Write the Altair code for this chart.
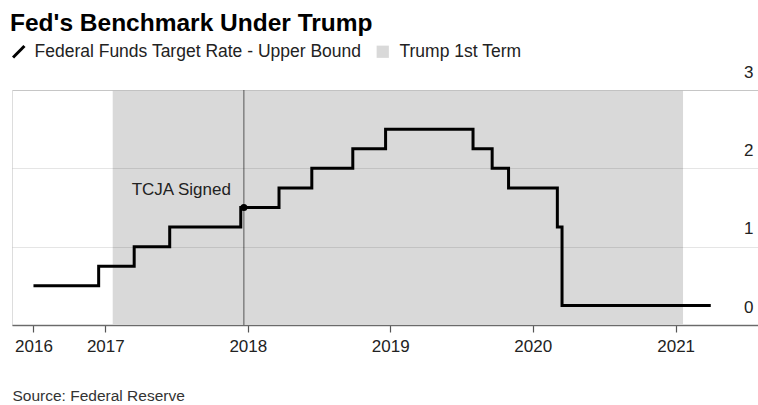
import altair as alt
import pandas as pd

# Federal funds target rate, upper bound (step changes)
rate_dates = ["2016-07-01", "2016-12-15", "2017-03-16", "2017-06-15", "2017-12-14",
              "2018-03-22", "2018-06-14", "2018-09-27", "2018-12-20", "2019-08-01",
              "2019-09-19", "2019-10-31", "2020-03-04", "2020-03-16", "2021-04-01"]
rate_values = [0.5, 0.75, 1.0, 1.25, 1.5, 1.75, 2.0, 2.25, 2.5, 2.25, 2.0, 1.75, 1.25, 0.25, 0.25]

term_start = ["2017-01-20"]
term_end = ["2021-01-20"]

event_dates = ["2017-12-22"]
event_values = [1.5]
event_labels = ["TCJA Signed"]

tick_labels = ["2016", "2017", "2018", "2019", "2020", "2021"]

FONT = "Liberation Sans"

rate_df = pd.DataFrame({"date": rate_dates, "rate": rate_values,
                        "series": ["Federal Funds Target Rate - Upper Bound"] * len(rate_dates)})
term_df = pd.DataFrame({"start": term_start, "end": term_end, "term": ["Trump 1st Term"]})
event_df = pd.DataFrame({"date": event_dates, "rate": event_values, "label": event_labels})

x_scale = alt.Scale(type="utc",
                    domain=[alt.DateTime(year=2016, month=5, date=7, utc=True),
                            alt.DateTime(year=2021, month=7, date=31, utc=True)])
y_scale = alt.Scale(domain=[0, 3], nice=False)

tick_values = [alt.DateTime(year=2016, month=7, date=1, utc=True)] + [
    alt.DateTime(year=int(y), month=1, date=1, utc=True) for y in tick_labels[1:]]

x_axis = alt.Axis(values=tick_values, labelExpr="utcFormat(datum.value, '%Y')",
                  grid=False, domainColor="#777777", domainWidth=1.5,
                  tickColor="#555555", tickSize=7, tickWidth=1.2,
                  labelFont=FONT, labelFontSize=17, labelColor="#222222", labelPadding=6,
                  title="Source: Federal Reserve", titleFont=FONT, titleFontSize=15.5,
                  titleFontWeight="normal", titleColor="#333333",
                  titleX=0, titleY=70, titleAlign="left", titleAnchor="start",
                  titleBaseline="middle")

y_axis = alt.Axis(orient="right", values=[0, 1, 2, 3], format="d", domain=False, ticks=False,
                  grid=True, gridColor="#000000", gridOpacity=0.1, gridWidth=1,
                  labelAlign="right", labelPadding=-5, labelBaseline="bottom",
                  labelOffset=-9, labelFont=FONT, labelFontSize=17, labelColor="#222222",
                  title=None, zindex=1)

shade = alt.Chart(term_df).mark_rect(opacity=1).encode(
    x=alt.X("start:T", scale=x_scale, axis=x_axis),
    x2="end:T",
    fill=alt.Fill("term:N", scale=alt.Scale(range=["#d9d9d9"]),
                  legend=alt.Legend(orient="none", legendX=362, legendY=-47, title=None,
                                    symbolType="square", symbolSize=150, symbolStrokeWidth=0,
                                    labelFont=FONT, labelFontSize=17.5, labelColor="#222222",
                                    labelOffset=8, labelLimit=0)),
)

rule = alt.Chart(event_df).mark_rule(color="#555555", strokeWidth=1).encode(
    x=alt.X("date:T", scale=x_scale),
)

line = alt.Chart(rate_df).mark_line(interpolate="step-after", strokeWidth=3,
                                    strokeJoin="miter").encode(
    x=alt.X("date:T", scale=x_scale),
    y=alt.Y("rate:Q", scale=y_scale, axis=y_axis),
    stroke=alt.Stroke("series:N", scale=alt.Scale(range=["#000000"]),
                      legend=alt.Legend(orient="none", legendX=-2, legendY=-47, title=None,
                                        symbolType="M-1,1L1,-1", symbolSize=130,
                                        symbolStrokeWidth=3, labelFont=FONT,
                                        labelFontSize=17.5, labelColor="#222222",
                                        labelOffset=7, labelLimit=0)),
)

dot = alt.Chart(event_df).mark_point(filled=True, color="#000000", size=50, opacity=1).encode(
    x=alt.X("date:T", scale=x_scale),
    y=alt.Y("rate:Q", scale=y_scale),
)

label = alt.Chart(event_df).mark_text(align="right", baseline="middle", dx=-13, dy=-18,
                                      font=FONT, fontSize=17, color="#222222").encode(
    x=alt.X("date:T", scale=x_scale),
    y=alt.Y("rate:Q", scale=y_scale),
    text="label:N",
)

chart = alt.layer(shade, rule, line, dot, label).resolve_legend(
    fill="independent", stroke="independent"
).properties(
    width=746, height=235,
    autosize=alt.AutoSizeParams(type="none"),
    padding={"left": 12, "top": 90, "right": 0, "bottom": 80},
    title=alt.TitleParams("Fed's Benchmark Under Trump", anchor="start", font=FONT,
                          fontSize=24.5, fontWeight="bold", color="#000000", offset=7),
).configure_view(stroke=None).configure(background="white")

chart.save("out.html", embed_options={"renderer": "svg", "actions": False})
